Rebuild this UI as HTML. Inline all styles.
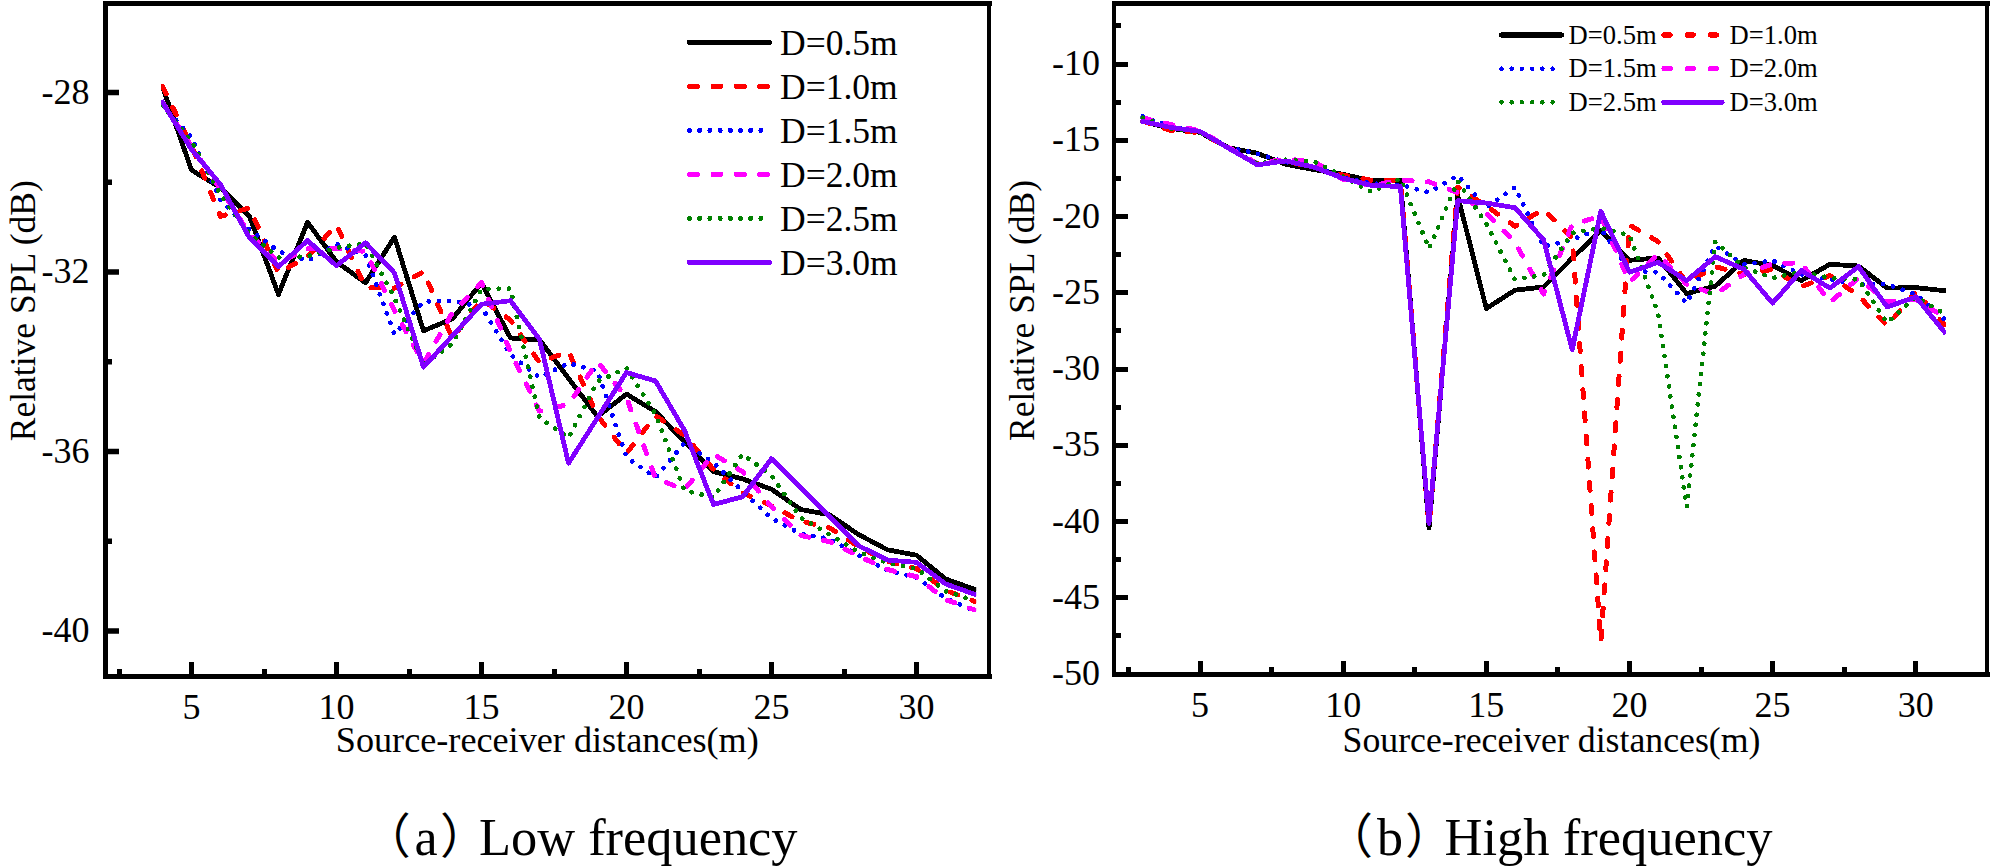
<!DOCTYPE html>
<html lang="en">
<head>
<meta charset="utf-8">
<title>Relative SPL vs source-receiver distance</title>
<style>
html,body{margin:0;padding:0;background:#fff;}
body{width:1990px;height:867px;overflow:hidden;}
svg{display:block;}
</style>
</head>
<body>
<svg width="1990" height="867" viewBox="0 0 1990 867">
<rect x="0" y="0" width="1990" height="867" fill="#ffffff"/>
<g fill="#000000" shape-rendering="crispEdges">
<rect x="103" y="1" width="889" height="5"/>
<rect x="103" y="674" width="889" height="5"/>
<rect x="103" y="1" width="5" height="678"/>
<rect x="987" y="1" width="4" height="678"/>
<rect x="189" y="662" width="5" height="13"/>
<rect x="334" y="662" width="5" height="13"/>
<rect x="479" y="662" width="5" height="13"/>
<rect x="624" y="662" width="5" height="13"/>
<rect x="769" y="662" width="5" height="13"/>
<rect x="914" y="662" width="5" height="13"/>
<rect x="117" y="669" width="5" height="6"/>
<rect x="262" y="669" width="5" height="6"/>
<rect x="407" y="669" width="5" height="6"/>
<rect x="552" y="669" width="5" height="6"/>
<rect x="697" y="669" width="5" height="6"/>
<rect x="842" y="669" width="5" height="6"/>
<rect x="107" y="89.75" width="12" height="5.5" shape-rendering="geometricPrecision"/>
<rect x="107" y="269.25" width="12" height="5.5" shape-rendering="geometricPrecision"/>
<rect x="107" y="448.75" width="12" height="5.5" shape-rendering="geometricPrecision"/>
<rect x="107" y="628.25" width="12" height="5.5" shape-rendering="geometricPrecision"/>
<rect x="107" y="179.50" width="5" height="5.5" shape-rendering="geometricPrecision"/>
<rect x="107" y="359.00" width="5" height="5.5" shape-rendering="geometricPrecision"/>
<rect x="107" y="538.50" width="5" height="5.5" shape-rendering="geometricPrecision"/>
<rect x="1112" y="1" width="878" height="5"/>
<rect x="1112" y="672" width="878" height="5"/>
<rect x="1112" y="1" width="4" height="676"/>
<rect x="1985" y="1" width="4" height="676"/>
<rect x="1198" y="661" width="5" height="12"/>
<rect x="1341" y="661" width="5" height="12"/>
<rect x="1484" y="661" width="5" height="12"/>
<rect x="1627" y="661" width="5" height="12"/>
<rect x="1770" y="661" width="5" height="12"/>
<rect x="1913" y="661" width="5" height="12"/>
<rect x="1126" y="667" width="5" height="6"/>
<rect x="1269" y="667" width="5" height="6"/>
<rect x="1412" y="667" width="5" height="6"/>
<rect x="1555" y="667" width="5" height="6"/>
<rect x="1699" y="667" width="5" height="6"/>
<rect x="1842" y="667" width="5" height="6"/>
<rect x="1115" y="62" width="13" height="5"/>
<rect x="1115" y="138" width="13" height="5"/>
<rect x="1115" y="214" width="13" height="5"/>
<rect x="1115" y="290" width="13" height="5"/>
<rect x="1115" y="367" width="13" height="5"/>
<rect x="1115" y="443" width="13" height="5"/>
<rect x="1115" y="519" width="13" height="5"/>
<rect x="1115" y="595" width="13" height="5"/>
<rect x="1115" y="672" width="13" height="5"/>
<rect x="1115" y="23" width="6" height="5"/>
<rect x="1115" y="100" width="6" height="5"/>
<rect x="1115" y="176" width="6" height="5"/>
<rect x="1115" y="252" width="6" height="5"/>
<rect x="1115" y="328" width="6" height="5"/>
<rect x="1115" y="405" width="6" height="5"/>
<rect x="1115" y="481" width="6" height="5"/>
<rect x="1115" y="557" width="6" height="5"/>
<rect x="1115" y="633" width="6" height="5"/>
</g>
<g shape-rendering="crispEdges">
<clipPath id="clipL"><rect x="161.1" y="0" width="815.1" height="700"/></clipPath>
<g clip-path="url(#clipL)">
<polyline points="162.5,86.7 191.5,170.1 220.5,187.6 249.5,216.4 278.5,294.4 307.5,222.2 336.5,261.7 365.5,282.8 394.5,237.0 423.5,330.8 452.5,318.7 481.5,282.8 510.5,338.0 539.5,339.8 568.5,378.4 597.5,416.5 626.5,394.1 655.5,411.6 684.5,441.6 713.5,471.7 742.5,478.9 771.5,489.2 800.5,509.4 829.5,514.8 858.5,534.5 887.5,549.8 916.5,555.2 945.5,578.9 974.5,589.3" fill="none" stroke="#000000" stroke-width="4.8" stroke-linecap="square" stroke-linejoin="round"/>
<polyline points="162.5,86.7 191.5,145.5 220.5,216.4 249.5,207.8 278.5,272.9 307.5,256.7 336.5,224.9 365.5,287.7 394.5,288.2 423.5,271.6 452.5,338.4 481.5,299.4 510.5,320.0 539.5,362.6 568.5,351.4 597.5,415.6 626.5,453.3 655.5,415.6 684.5,435.3 713.5,469.4 742.5,492.8 771.5,505.8 800.5,521.1 829.5,527.8 858.5,546.6 887.5,561.4 916.5,568.6 945.5,590.2 974.5,601.4" fill="none" stroke="#ff0000" stroke-width="5.0" stroke-linecap="round" stroke-linejoin="round" stroke-dasharray="8 15.2"/>
<polyline points="162.5,105.1 191.5,137.4 220.5,200.2 249.5,229.4 278.5,251.4 307.5,260.8 336.5,244.2 365.5,254.9 394.5,334.4 423.5,301.6 452.5,300.7 481.5,307.0 510.5,354.6 539.5,377.5 568.5,363.1 597.5,371.2 626.5,457.3 655.5,477.5 684.5,443.0 713.5,462.7 742.5,491.4 771.5,518.4 800.5,533.6 829.5,539.0 858.5,555.2 887.5,570.4 916.5,577.6 945.5,598.2 974.5,610.8" fill="none" stroke="#0000ff" stroke-width="4.7" stroke-linecap="round" stroke-linejoin="round" stroke-dasharray="0.01 10.2"/>
<polyline points="162.5,102.4 191.5,146.3 220.5,189.0 249.5,233.9 278.5,263.0 307.5,248.7 336.5,248.7 365.5,251.4 394.5,310.6 423.5,363.5 452.5,312.4 481.5,282.8 510.5,351.9 539.5,411.1 568.5,404.4 597.5,361.8 626.5,397.6 655.5,478.4 684.5,489.6 713.5,454.2 742.5,471.7 771.5,506.7 800.5,535.4 829.5,541.7 858.5,556.1 887.5,569.5 916.5,576.7 945.5,599.6 974.5,609.9" fill="none" stroke="#ff00ff" stroke-width="5.0" stroke-linecap="round" stroke-linejoin="round" stroke-dasharray="8 15.2"/>
<polyline points="162.5,105.1 191.5,141.9 220.5,194.8 249.5,233.9 278.5,257.6 307.5,256.3 336.5,247.8 365.5,243.3 394.5,298.0 423.5,364.4 452.5,343.8 481.5,289.1 510.5,288.6 539.5,417.8 568.5,438.0 597.5,381.5 626.5,368.0 655.5,414.3 684.5,490.5 713.5,497.3 742.5,454.2 771.5,475.7 800.5,517.5 829.5,534.5 858.5,552.0 887.5,562.8 916.5,568.6 945.5,591.1 974.5,600.9" fill="none" stroke="#008000" stroke-width="4.7" stroke-linecap="round" stroke-linejoin="round" stroke-dasharray="0.01 10.2"/>
<polyline points="162.5,102.4 191.5,149.5 220.5,184.5 249.5,237.9 278.5,266.6 307.5,240.6 336.5,265.7 365.5,242.8 394.5,272.9 423.5,367.1 452.5,335.7 481.5,304.3 510.5,300.7 539.5,339.3 568.5,463.2 597.5,417.8 626.5,372.5 655.5,381.0 684.5,430.4 713.5,504.5 742.5,496.8 771.5,458.7 800.5,487.8 829.5,516.6 858.5,545.7 887.5,560.1 916.5,562.3 945.5,583.9 974.5,594.2" fill="none" stroke="#8000ff" stroke-width="4.8" stroke-linecap="square" stroke-linejoin="round"/>
</g>
<clipPath id="clipR"><rect x="1140.3" y="0" width="805.7" height="700"/></clipPath>
<g clip-path="url(#clipR)">
<polyline points="1142.7,121.4 1171.4,128.5 1200.0,132.4 1228.6,147.6 1257.3,153.3 1285.9,164.4 1314.5,169.7 1343.2,174.3 1371.8,180.9 1400.4,180.4 1429.0,528.1 1457.7,195.7 1486.3,308.5 1514.9,290.2 1543.6,287.0 1572.2,258.2 1600.8,230.4 1629.5,260.3 1658.1,257.9 1686.7,293.6 1715.3,286.1 1744.0,260.5 1772.6,265.5 1801.2,280.6 1829.9,264.3 1858.5,266.0 1887.1,288.1 1915.8,287.6 1944.4,290.7" fill="none" stroke="#000000" stroke-width="4.8" stroke-linecap="square" stroke-linejoin="round"/>
<polyline points="1142.7,120.9 1171.4,130.8 1200.0,132.4 1228.6,148.4 1257.3,163.6 1285.9,161.3 1314.5,167.4 1343.2,175.1 1371.8,180.4 1400.4,180.4 1429.0,526.6 1457.7,187.3 1486.3,206.0 1514.9,226.2 1543.6,209.1 1572.2,238.3 1600.8,641.7 1629.5,224.9 1658.1,241.6 1686.7,283.0 1715.3,266.7 1744.0,274.3 1772.6,269.3 1801.2,286.8 1829.9,275.6 1858.5,295.7 1887.1,325.7 1915.8,291.9 1944.4,324.5" fill="none" stroke="#ff0000" stroke-width="5.0" stroke-linecap="round" stroke-linejoin="round" stroke-dasharray="8 15.2"/>
<polyline points="1142.7,116.4 1171.4,127.0 1200.0,131.6 1228.6,147.6 1257.3,153.7 1285.9,162.1 1314.5,166.7 1343.2,177.3 1371.8,183.5 1400.4,185.0 1429.0,192.3 1457.7,175.5 1486.3,207.5 1514.9,187.3 1543.6,246.7 1572.2,239.6 1600.8,228.6 1629.5,270.5 1658.1,272.5 1686.7,303.2 1715.3,246.0 1744.0,264.3 1772.6,260.5 1801.2,274.3 1829.9,279.4 1858.5,284.1 1887.1,284.3 1915.8,294.3 1944.4,319.2" fill="none" stroke="#0000ff" stroke-width="4.7" stroke-linecap="round" stroke-linejoin="round" stroke-dasharray="0.01 10.2"/>
<polyline points="1142.7,117.9 1171.4,124.7 1200.0,130.8 1228.6,147.6 1257.3,163.6 1285.9,159.0 1314.5,161.8 1343.2,179.6 1371.8,185.7 1400.4,180.1 1429.0,181.9 1457.7,192.6 1486.3,213.0 1514.9,242.3 1543.6,294.0 1572.2,224.6 1600.8,216.1 1629.5,282.0 1658.1,254.2 1686.7,284.3 1715.3,294.3 1744.0,274.3 1772.6,263.8 1801.2,262.8 1829.9,302.4 1858.5,278.0 1887.1,301.9 1915.8,299.3 1944.4,317.0" fill="none" stroke="#ff00ff" stroke-width="5.0" stroke-linecap="round" stroke-linejoin="round" stroke-dasharray="8 15.2"/>
<polyline points="1142.7,117.9 1171.4,128.5 1200.0,132.4 1228.6,148.4 1257.3,163.6 1285.9,159.8 1314.5,161.5 1343.2,176.6 1371.8,192.1 1400.4,178.6 1429.0,248.7 1457.7,181.2 1486.3,223.6 1514.9,279.5 1543.6,275.0 1572.2,233.0 1600.8,228.1 1629.5,235.3 1658.1,313.2 1686.7,506.8 1715.3,241.6 1744.0,267.5 1772.6,278.0 1801.2,271.7 1829.9,278.0 1858.5,279.4 1887.1,322.8 1915.8,296.9 1944.4,313.7" fill="none" stroke="#008000" stroke-width="4.7" stroke-linecap="round" stroke-linejoin="round" stroke-dasharray="0.01 10.2"/>
<polyline points="1142.7,121.4 1171.4,127.6 1200.0,131.4 1228.6,148.2 1257.3,164.8 1285.9,160.9 1314.5,167.3 1343.2,178.4 1371.8,185.4 1400.4,186.5 1429.0,523.5 1457.7,200.7 1486.3,203.0 1514.9,207.7 1543.6,239.9 1572.2,349.7 1600.8,211.2 1629.5,272.2 1658.1,262.4 1686.7,280.6 1715.3,256.7 1744.0,269.3 1772.6,303.2 1801.2,270.5 1829.9,288.1 1858.5,266.7 1887.1,307.0 1915.8,296.9 1944.4,332.0" fill="none" stroke="#8000ff" stroke-width="4.8" stroke-linecap="square" stroke-linejoin="round"/>
</g>
</g>
<g shape-rendering="crispEdges" fill="none">
<line x1="689.5" y1="42.4" x2="769.5" y2="42.4" stroke="#000000" stroke-width="5.2" stroke-linecap="round"/>
<line x1="689.8" y1="86.4" x2="772" y2="86.4" stroke="#ff0000" stroke-width="5.4" stroke-linecap="round" stroke-dasharray="7.4 16"/>
<line x1="689.5" y1="130.4" x2="765" y2="130.4" stroke="#0000ff" stroke-width="5" stroke-linecap="round" stroke-dasharray="0.01 10.2"/>
<line x1="689.8" y1="174.4" x2="772" y2="174.4" stroke="#ff00ff" stroke-width="5.4" stroke-linecap="round" stroke-dasharray="7.4 16"/>
<line x1="689.5" y1="218.4" x2="765" y2="218.4" stroke="#008000" stroke-width="5" stroke-linecap="round" stroke-dasharray="0.01 10.2"/>
<line x1="689.5" y1="262.4" x2="769.5" y2="262.4" stroke="#8000ff" stroke-width="5.2" stroke-linecap="round"/>
<line x1="1501.5" y1="35.0" x2="1561.5" y2="35.0" stroke="#000000" stroke-width="5.2" stroke-linecap="round"/>
<line x1="1664" y1="35.0" x2="1725" y2="35.0" stroke="#ff0000" stroke-width="5.2" stroke-linecap="round" stroke-dasharray="6.2 16.9"/>
<line x1="1501.5" y1="68.7" x2="1561.5" y2="68.7" stroke="#0000ff" stroke-width="4.6" stroke-linecap="round" stroke-dasharray="0.01 10.2"/>
<line x1="1664" y1="68.7" x2="1725" y2="68.7" stroke="#ff00ff" stroke-width="5.2" stroke-linecap="round" stroke-dasharray="6.2 16.9"/>
<line x1="1501.5" y1="102.3" x2="1561.5" y2="102.3" stroke="#008000" stroke-width="4.6" stroke-linecap="round" stroke-dasharray="0.01 10.2"/>
<line x1="1664" y1="102.3" x2="1722" y2="102.3" stroke="#8000ff" stroke-width="5.2" stroke-linecap="round"/>
</g>
<g font-family="'Liberation Serif', 'Noto Serif CJK SC', serif" fill="#000000">
<g font-size="36">
<text x="89.5" y="103.8" text-anchor="end">-28</text>
<text x="89.5" y="283.3" text-anchor="end">-32</text>
<text x="89.5" y="462.8" text-anchor="end">-36</text>
<text x="89.5" y="642.3" text-anchor="end">-40</text>
<text x="191.5" y="719.2" text-anchor="middle">5</text>
<text x="336.5" y="719.2" text-anchor="middle">10</text>
<text x="481.5" y="719.2" text-anchor="middle">15</text>
<text x="626.5" y="719.2" text-anchor="middle">20</text>
<text x="771.5" y="719.2" text-anchor="middle">25</text>
<text x="916.5" y="719.2" text-anchor="middle">30</text>
<text x="547.3" y="752" text-anchor="middle" font-size="36.2">Source-receiver distances(m)</text>
<text transform="translate(35,310.7) rotate(-90)" text-anchor="middle" font-size="35.5">Relative SPL (dB)</text>
<text x="780" y="54.9" font-size="35.5">D=0.5m</text>
<text x="780" y="98.8" font-size="35.5">D=1.0m</text>
<text x="780" y="142.8" font-size="35.5">D=1.5m</text>
<text x="780" y="186.7" font-size="35.5">D=2.0m</text>
<text x="780" y="230.7" font-size="35.5">D=2.5m</text>
<text x="780" y="274.6" font-size="35.5">D=3.0m</text>
<text x="1100" y="75.1" text-anchor="end">-10</text>
<text x="1100" y="151.3" text-anchor="end">-15</text>
<text x="1100" y="227.6" text-anchor="end">-20</text>
<text x="1100" y="303.9" text-anchor="end">-25</text>
<text x="1100" y="380.1" text-anchor="end">-30</text>
<text x="1100" y="456.4" text-anchor="end">-35</text>
<text x="1100" y="532.6" text-anchor="end">-40</text>
<text x="1100" y="608.9" text-anchor="end">-45</text>
<text x="1100" y="685.1" text-anchor="end">-50</text>
<text x="1200.0" y="716.6" text-anchor="middle">5</text>
<text x="1343.2" y="716.6" text-anchor="middle">10</text>
<text x="1486.3" y="716.6" text-anchor="middle">15</text>
<text x="1629.5" y="716.6" text-anchor="middle">20</text>
<text x="1772.6" y="716.6" text-anchor="middle">25</text>
<text x="1915.8" y="716.6" text-anchor="middle">30</text>
<text x="1551.5" y="751.6" text-anchor="middle" font-size="35.75">Source-receiver distances(m)</text>
<text transform="translate(1033.5,310.5) rotate(-90)" text-anchor="middle" font-size="35.5">Relative SPL (dB)</text>
</g>
<g font-size="26.6">
<text x="1568.6" y="43.6">D=0.5m</text>
<text x="1729.6" y="43.6">D=1.0m</text>
<text x="1568.6" y="77.1">D=1.5m</text>
<text x="1729.6" y="77.1">D=2.0m</text>
<text x="1568.6" y="110.5">D=2.5m</text>
<text x="1729.6" y="110.5">D=3.0m</text>
</g>
<g font-size="52">
<text x="362.8" y="853.3" font-size="48" font-family="'Liberation Serif', 'Noto Sans CJK SC', serif">（</text>
<text x="414.5" y="854.6">a</text>
<text x="440" y="853.3" font-size="48" font-family="'Liberation Serif', 'Noto Sans CJK SC', serif">）</text>
<text x="479" y="854.6" font-size="52.4">Low frequency</text>
<text x="1325" y="852.5" font-size="48" font-family="'Liberation Serif', 'Noto Sans CJK SC', serif">（</text>
<text x="1377" y="854.8">b</text>
<text x="1405" y="852.5" font-size="48" font-family="'Liberation Serif', 'Noto Sans CJK SC', serif">）</text>
<text x="1444.6" y="854.8" font-size="52.5">High frequency</text>
</g>
</g>
</svg>
</body>
</html>
